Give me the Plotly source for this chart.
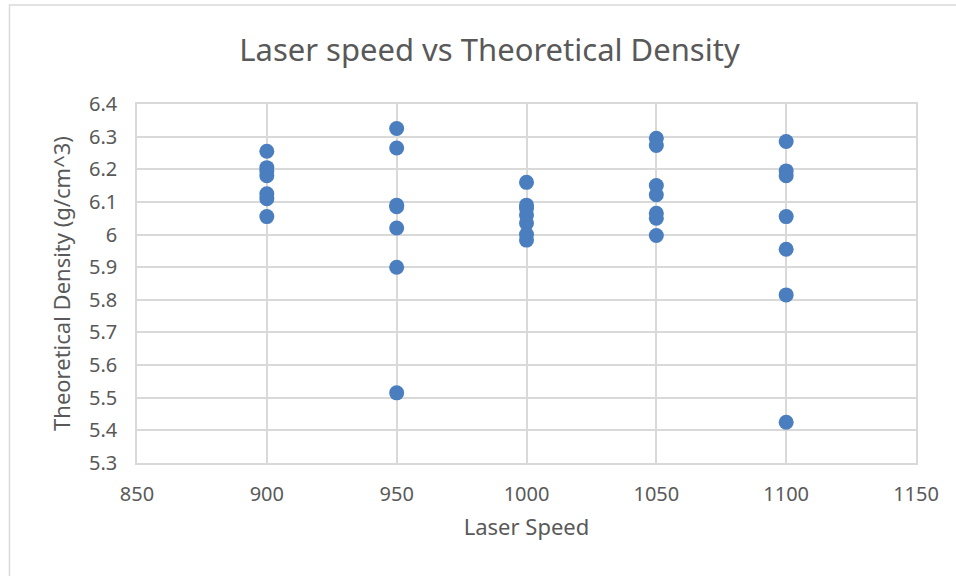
import plotly.graph_objects as go

speeds = [900]*7 + [950]*7 + [1000]*7 + [1050]*7 + [1100]*7
density_900 = [6.255, 6.205, 6.195, 6.18, 6.125, 6.11, 6.055]
density_950 = [6.325, 6.265, 6.09, 6.085, 6.02, 5.9, 5.515]
density_1000 = [6.16, 6.09, 6.08, 6.06, 6.035, 6.0, 5.983]
density_1050 = [6.295, 6.273, 6.15, 6.122, 6.065, 6.05, 5.997]
density_1100 = [6.285, 6.195, 6.18, 6.055, 5.955, 5.815, 5.425]
densities = density_900 + density_950 + density_1000 + density_1050 + density_1100

title_text = "Laser speed vs Theoretical Density"
x_title = "Laser Speed"
y_title = "Theoretical Density (g/cm^3)"
y_tickvals = [5.3, 5.4, 5.5, 5.6, 5.7, 5.8, 5.9, 6.0, 6.1, 6.2, 6.3, 6.4]
y_ticktext = ["5.3", "5.4", "5.5", "5.6", "5.7", "5.8", "5.9", "6", "6.1", "6.2", "6.3", "6.4"]

font_family = "Noto Sans, Open Sans, sans-serif"
text_color = "#595959"
grid_color = "#d9d9d9"

fig = go.Figure()
fig.add_trace(go.Scatter(
    x=speeds, y=densities, mode="markers",
    marker=dict(size=15, color="#4a7ebf", line=dict(width=0)),
    showlegend=False,
))

L, R, T, B = 137, 40, 104, 113
W, H = 956, 576
pw, ph = W - L - R, H - T - B

fig.update_layout(
    width=W, height=H,
    margin=dict(l=L, r=R, t=T, b=B),
    paper_bgcolor="white", plot_bgcolor="white",
    font=dict(family=font_family, color=text_color, size=20),
    title=dict(text=title_text, x=489.5 / W, xanchor="center",
               y=1 - 50 / H, yanchor="middle",
               font=dict(size=31, color=text_color, family=font_family)),
    xaxis=dict(range=[850, 1150], dtick=50, tick0=850,
               showgrid=True, gridcolor=grid_color, gridwidth=1.5,
               showline=True, linecolor=grid_color, linewidth=1.5, mirror=True,
               zeroline=False, ticks="", ticklabelstandoff=12,
               tickfont=dict(size=20),
               title=dict(text=x_title, font=dict(size=22, color=text_color), standoff=14)),
    yaxis=dict(range=[5.3, 6.4],
               showgrid=True, gridcolor=grid_color, gridwidth=1.5,
               showline=True, linecolor=grid_color, linewidth=1.5, mirror=True,
               zeroline=False, ticks="", ticklabelstandoff=14,
               tickvals=y_tickvals, ticktext=y_ticktext,
               tickfont=dict(size=20),
               title=dict(text=y_title, font=dict(size=22, color=text_color), standoff=12)),
)

# outer chart border
fig.add_shape(type="rect", xref="paper", yref="paper",
              x0=(9.5 - L) / pw, x1=(960 - L) / pw,
              y0=(H - B - 600) / ph, y1=(H - B - 5) / ph,
              line=dict(color="#d9d9d9", width=1.5), fillcolor="rgba(0,0,0,0)",
              layer="below")

fig.write_html("out.html")
